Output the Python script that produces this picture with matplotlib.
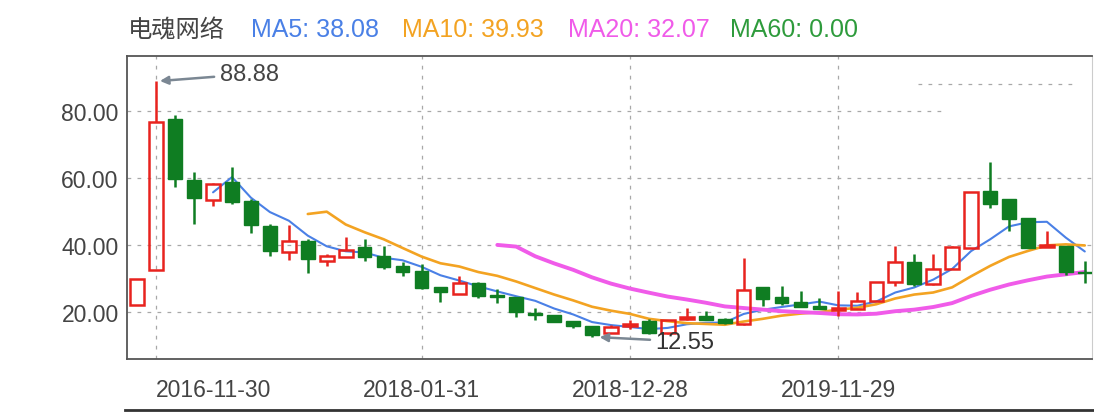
import numpy as np
import pandas as pd
import matplotlib
matplotlib.use("Agg")
import matplotlib.pyplot as plt
from matplotlib.lines import Line2D

# monthly candles, oldest first
opens = [22.1, 32.6, 77.6, 59.5, 53.5, 58.9, 53.2, 45.8, 37.8, 41.3,
         35.3, 36.5, 39.5, 36.8, 33.8, 32.3, 27.4, 25.3, 28.7, 25.0,
         24.4, 19.7, 19.1, 17.4, 15.9, 13.7, 15.9, 17.4, 13.8, 17.9,
         18.7, 17.9, 16.4, 27.4, 24.4, 23.1, 21.9, 20.6, 20.9, 23.4,
         29.0, 34.8, 28.4, 33.0, 39.2, 56.2, 53.7, 48.2, 39.3, 39.6, 32.0]
highs = [29.9, 88.88, 78.8, 61.9, 58.5, 63.2, 53.7, 46.2, 46.0, 41.8,
         37.3, 42.3, 41.8, 39.8, 34.8, 34.3, 27.4, 30.8, 29.0, 26.9,
         24.4, 21.1, 19.1, 17.4, 15.9, 16.1, 17.7, 17.9, 17.7, 21.1,
         20.4, 18.3, 36.0, 27.4, 27.9, 26.4, 24.1, 26.4, 26.1, 29.0,
         39.6, 37.3, 37.3, 39.8, 55.7, 64.9, 53.7, 48.2, 44.3, 39.6, 35.3]
lows = [22.1, 32.6, 57.2, 46.2, 51.7, 52.2, 43.6, 36.6, 35.5, 31.6,
        33.6, 36.5, 35.3, 32.8, 30.8, 26.9, 22.9, 25.3, 24.1, 22.7,
        18.4, 17.7, 17.1, 15.1, 12.55, 13.7, 14.9, 13.4, 13.4, 17.7,
        17.6, 16.5, 16.2, 21.7, 22.1, 21.4, 20.9, 18.7, 20.9, 23.4,
        27.9, 27.9, 28.0, 33.0, 39.2, 51.0, 44.3, 39.0, 39.3, 31.0, 28.7]
closes = [29.9, 76.8, 59.7, 54.1, 58.1, 52.7, 46.0, 38.3, 41.2, 35.8,
          36.8, 38.6, 36.5, 33.3, 32.1, 27.1, 25.9, 28.6, 24.7, 24.5,
          19.9, 19.1, 17.1, 15.9, 13.1, 15.4, 16.3, 13.9, 17.7, 18.5,
          17.6, 16.7, 26.7, 23.9, 22.7, 21.4, 20.9, 21.1, 23.4, 29.0,
          34.8, 28.4, 32.8, 39.3, 55.7, 52.2, 47.8, 39.0, 40.0, 32.0, 31.6]

tick_pos = [1, 15, 26, 37]
tick_labels = ["2016-11-30", "2018-01-31", "2018-12-28", "2019-11-29"]
y_ticks = [20, 40, 60, 80]

title = "电魂网络"
ma_names = ["MA5", "MA10", "MA20", "MA60"]
ma_values = ["38.08", "39.93", "32.07", "0.00"]
ma_colors = ["#4a80e6", "#f3a322", "#f05be9", "#2e9b3c"]

up_col = "#e8231e"
down_col = "#0f7d22"

df = pd.DataFrame({"o": opens, "h": highs, "l": lows, "c": closes})
x = np.arange(len(df))

fig = plt.figure(figsize=(10.94, 4.14), dpi=100)
ax = fig.add_axes([127 / 1094, 1 - 360 / 414, 965 / 1094, 303 / 414])

# moving averages (drawn under the candles)
for win, col, lw in [(5, ma_colors[0], 1.5), (10, ma_colors[1], 1.9), (20, ma_colors[2], 2.8)]:
    ma = df["c"].rolling(win).mean()
    ax.plot(x, ma, color=col, lw=lw, zorder=2, solid_capstyle="round")

w = 0.72
for i, r in df.iterrows():
    top = max(r.o, r.c)
    bot = min(r.o, r.c)
    hgt = max(top - bot, 0.35)
    if r.c >= r.o:
        ax.vlines(i, top, r.h, color=up_col, lw=1.8, zorder=3)
        ax.vlines(i, r.l, bot, color=up_col, lw=1.8, zorder=3)
        ax.bar(i, hgt, w, bottom=bot, facecolor="none", edgecolor=up_col, lw=1.8, zorder=3)
    else:
        ax.vlines(i, r.l, r.h, color=down_col, lw=1.8, zorder=3)
        ax.bar(i, hgt, w, bottom=bot, color=down_col, edgecolor=down_col, lw=1, zorder=3)

ax.set_xlim(-0.54, 50.38)
ax.set_ylim(6, 96.4)

# dashed grid
grid_kw = dict(color="#a8a8a8", lw=0.9, ls=(0, (3, 5)), zorder=1)
for yv in [20, 40, 60]:
    ax.axhline(yv, **grid_kw)
ax.axhline(80, xmax=0.85, **grid_kw)
ax.axhline(88.1, xmin=0.82, xmax=0.985, **grid_kw)
for xv in tick_pos:
    ax.axvline(xv, **grid_kw)

ax.set_xticks(tick_pos)
ax.set_xticklabels(tick_labels)
ax.set_yticks(y_ticks)
ax.set_yticklabels(["%.2f" % v for v in y_ticks])
ax.tick_params(axis="both", length=0, colors="#444444")
ax.tick_params(axis="x", labelsize=16.5, pad=14)
ax.tick_params(axis="y", labelsize=16.5, pad=6)
for lab in ax.get_xticklabels() + ax.get_yticklabels():
    lab.set_family(["Liberation Sans", "DejaVu Sans"])
# first date label is kept inside the frame
ax.get_xticklabels()[0].set_ha("left")

for s in ["left", "top", "bottom"]:
    ax.spines[s].set_color("#555555")
    ax.spines[s].set_linewidth(1.3)
ax.spines["right"].set_color("#cccccc")

# max / min markers
arrow = dict(arrowstyle="-|>", color="#7b8793", lw=1.8, mutation_scale=12)
ax.annotate("88.88", xy=(1.05, 88.88), xytext=(4.35, 91.0), va="center", ha="left",
            fontsize=17, color="#444444", family="Liberation Sans", arrowprops=arrow)
ax.annotate("12.55", xy=(24.25, 12.55), xytext=(27.35, 11.2), va="center", ha="left",
            fontsize=17, color="#333333", family="Liberation Sans", arrowprops=arrow)

# header
fig.text(128 / 1094, 1 - 30 / 414, title, fontsize=17.5, color="#444444",
         family=["Noto Sans CJK SC", "DejaVu Sans"], va="center")
hx = [251, 402, 568, 730]
for px, name, val, col in zip(hx, ma_names, ma_values, ma_colors):
    fig.text(px / 1094, 1 - 30 / 414, name + ": " + val, fontsize=18, color=col,
             family=["Liberation Sans", "DejaVu Sans"], va="center")

fig.add_artist(Line2D([125 / 1094, 1], [1 - 411 / 414] * 2, color="#333333", lw=2))

fig.savefig("out.png", dpi=100)
